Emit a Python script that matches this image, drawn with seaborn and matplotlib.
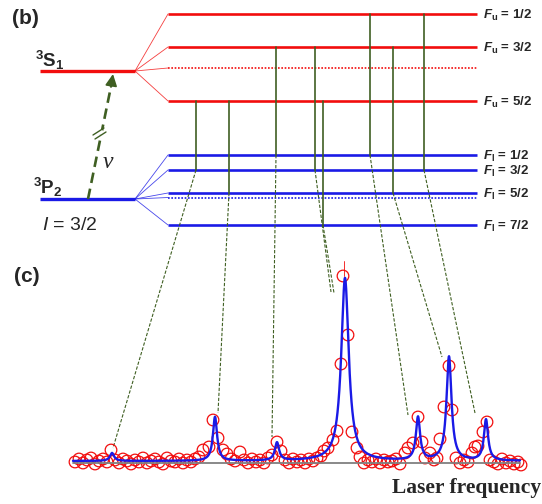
import numpy as np
import pandas as pd
import matplotlib
matplotlib.use("Agg")
import matplotlib.pyplot as plt
import seaborn as sns

sns.set_style("white")
plt.rcParams["font.family"] = ["Liberation Sans", "DejaVu Sans"]
plt.rcParams["mathtext.fontset"] = "custom"
plt.rcParams["mathtext.rm"] = "Liberation Sans"
plt.rcParams["mathtext.it"] = "Liberation Sans:italic"
plt.rcParams["mathtext.bf"] = "Liberation Sans:bold"
plt.rcParams["mathtext.bfit"] = "Liberation Sans:bold:italic"

# ---- level scheme -------------------------------------------------------
upper_F = ["1/2", "3/2", "5/2"]            # 3S1 hyperfine levels
lower_F = ["1/2", "3/2", "5/2", "7/2"]     # 3P2 hyperfine levels

# hyperfine transitions (upper F -> lower F), in order of the spectrum peaks
trans_upper = ["5/2", "5/2", "3/2", "3/2", "5/2", "1/2", "3/2", "1/2"]
trans_lower = ["3/2", "5/2", "1/2", "3/2", "7/2", "1/2", "5/2", "3/2"]

# ---- measured spectrum ---------------------------------------------------
scan_freq = [2, 6, 10, 14, 18, 22, 26, 30, 34, 38, 42, 46, 50, 54, 58, 62,
             66, 70, 74, 78, 82, 86, 90, 94, 98, 102, 106, 110, 114, 118,
             122, 126, 130, 136, 140, 145, 150, 154, 158, 162, 167, 171,
             175, 179, 183, 187, 191, 195, 199, 204, 208, 212, 216, 220,
             224, 228, 232, 236, 240, 244, 248, 251, 255, 260, 264, 268,
             270, 275, 279, 284, 287, 291, 295, 299, 303, 307, 311, 315,
             319, 323, 327, 332, 335, 340, 345, 349, 352, 357, 361, 364,
             367, 371, 376, 379, 383, 387, 391, 395, 399, 402, 405, 410,
             414, 417, 421, 425, 429, 433, 437, 441, 445, 448]
scan_signal = [1, 4, 0, 3, 5, -1, 2, 4, 1, 13, 3, 0, 4, 2, -1, 3,
               1, 5, 0, 2, 4, 1, -1, 5, 2, 1, 4, 0, 3, 1,
               4, 6, 13, 16, 43, 25, 13, 9, 4, 2, 11, 3,
               0, 4, 1, 3, 0, 5, 8, 21, 12, 3, 0, 4,
               1, 3, 0, 4, 2, 5, 7, 12, 15, 23, 32, 99,
               187, 128, 31, 15, 6, 0, 3, 1, 4, 0, 3, 1,
               2, 4, -1, 10, 15, 20, 46, 21, 5, 10, 3, 5,
               24, 56, 97, 53, 5, 0, 3, 1, 10, 16, 17, 31,
               41, 3, 1, -1, 4, 0, 2, -1, 1, -2]

# Lorentzian fit components
peak_center = [39, 142, 204, 272, 345, 376, 413]
peak_height = [8, 44, 18, 183, 43, 104, 41]
peak_fwhm = [5, 5, 5, 9, 5, 6, 5]
fit_offset = 2

# ---- figure --------------------------------------------------------------
RED = "#f20d0d"
BLUE = "#1a1ae6"
GREEN = "#3f5f22"

fig = plt.figure(figsize=(5.42, 5.04), dpi=100)
ax = fig.add_axes([0, 0, 1, 1])
ax.set_xlim(0, 542)
ax.set_ylim(504, 0)
ax.axis("off")

# vertical placement of the levels (pixel layout of the diagram)
y_S1, y_P2 = 71, 199
up_y = dict(zip(upper_F, [14, 47, 101]))
lo_y = dict(zip(lower_F, [155, 170, 193, 225]))
up_dot, lo_dot = 68, 197.5
x_fine0, x_fine1 = 168, 477
x_fine_left = 135

# fine-structure levels
ax.plot([40, x_fine_left], [y_S1, y_S1], color=RED, lw=2.4, solid_capstyle="butt")
ax.plot([40, x_fine_left], [y_P2, y_P2], color=BLUE, lw=2.4, solid_capstyle="butt")

# fan-out to the hyperfine manifolds
for yy in list(up_y.values()) + [up_dot]:
    ax.plot([x_fine_left, x_fine0], [y_S1, yy], color=RED, lw=0.6, alpha=0.8)
for yy in list(lo_y.values()) + [lo_dot]:
    ax.plot([x_fine_left, x_fine0], [y_P2, yy], color=BLUE, lw=0.6, alpha=0.8)

# hyperfine levels
for F, yy in up_y.items():
    ax.plot([x_fine0, x_fine1], [yy, yy], color=RED, lw=1.9, solid_capstyle="butt")
    ax.text(483, yy + 1.5, r"$\mathbfit{F}_{\mathbf{u}}$" + f" = {F}",
            fontsize=9.5, fontweight="bold", va="center", ha="left")
ax.plot([x_fine0, x_fine1], [up_dot, up_dot], color=RED, lw=1.2, ls=(0, (1, 1)))
for F, yy in lo_y.items():
    ax.plot([x_fine0, x_fine1], [yy, yy], color=BLUE, lw=1.9, solid_capstyle="butt")
    ax.text(483, yy + 1.5, r"$\mathbfit{F}_{\mathbf{l}}$" + f" = {F}",
            fontsize=9.5, fontweight="bold", va="center", ha="left")
ax.plot([x_fine0, x_fine1], [lo_dot, lo_dot], color=BLUE, lw=1.2, ls=(0, (1, 1)))

# transitions and connectors to the spectrum peaks
trans_x = [196, 229, 276, 315, 323, 370, 393, 424]
conn_end = [(113, 448), (218, 413), (272, 437), (331, 292),
            (334, 293), (408, 415), (442, 357), (475, 413)]
for xx, Fu, Fl, end in zip(trans_x, trans_upper, trans_lower, conn_end):
    ax.plot([xx, xx], [up_y[Fu], lo_y[Fl]], color=GREEN, lw=1.2)
    ax.plot([xx, end[0]], [lo_y[Fl], end[1]], color=GREEN, lw=0.8,
            ls=(0, (3, 1.5)))

# excitation arrow with a break mark
ax.plot([88, 111.5], [y_P2, 84], color=GREEN, lw=1.9, ls=(0, (4, 2.2)))
ax.annotate("", xy=(113, 74), xytext=(111.0, 87),
            arrowprops=dict(arrowstyle="-|>,head_length=0.7,head_width=0.35",
                            color=GREEN, lw=1.3, shrinkA=0, shrinkB=0))
ax.plot([98, 103], [130.5, 133.5], color="white", lw=3.5)
ax.plot([93, 104], [135, 128], color=GREEN, lw=1.0)
ax.plot([95, 106], [139, 132], color=GREEN, lw=1.0)

# labels
ax.text(12, 19, "(b)", fontsize=15, fontweight="bold", va="center", ha="left")
ax.text(14, 277, "(c)", fontsize=15, fontweight="bold", va="center", ha="left")
ax.text(35, 60, r"$^{\mathbf{3}}\mathbf{S}_{\mathbf{1}}$", fontsize=13.5, va="center", ha="left")
ax.text(33, 187, r"$^{\mathbf{3}}\mathbf{P}_{\mathbf{2}}$", fontsize=13.5, va="center", ha="left")
ax.text(42, 226, r"$\mathit{I}$ = 3/2", fontsize=14, va="center", ha="left")
ax.text(103, 162, "ν", fontsize=17, fontstyle="italic", family="Liberation Serif",
        va="center", ha="left")
ax.text(541, 488, "Laser frequency", fontsize=15.5, fontweight="bold",
        family="Liberation Serif", va="center", ha="right")

# ---- spectrum --------------------------------------------------------------
sp = fig.add_axes([0, 0, 1, 1], facecolor="none")
sp.set_xlim(-73, 469)
sp.set_ylim(-41, 463)
sp.axis("off")

scan = pd.DataFrame({"freq": scan_freq, "signal": scan_signal})
fgrid = np.linspace(0, 447, 1500)
fit = np.full_like(fgrid, float(fit_offset))
for c, h, w in zip(peak_center, peak_height, peak_fwhm):
    fit += h / (1 + ((fgrid - c) / (w / 2)) ** 2)
fit_df = pd.DataFrame({"freq": fgrid, "signal": fit})

sp.plot([0, 447], [0, 0], color="#808080", lw=1.3)
sns.scatterplot(data=scan, x="freq", y="signal", ax=sp, s=70, marker="o",
                facecolor="none", edgecolor=RED, linewidth=0.9, legend=False)
sns.lineplot(data=fit_df, x="freq", y="signal", ax=sp, color=BLUE, lw=1.7)
top = int(np.argmax(scan_signal))
sp.plot([scan_freq[top] + 1, scan_freq[top] + 1],
        [scan_signal[top], scan_signal[top] + 15], color=RED, lw=0.6)
sp.axis("off")

fig.savefig("out.png", dpi=100)
